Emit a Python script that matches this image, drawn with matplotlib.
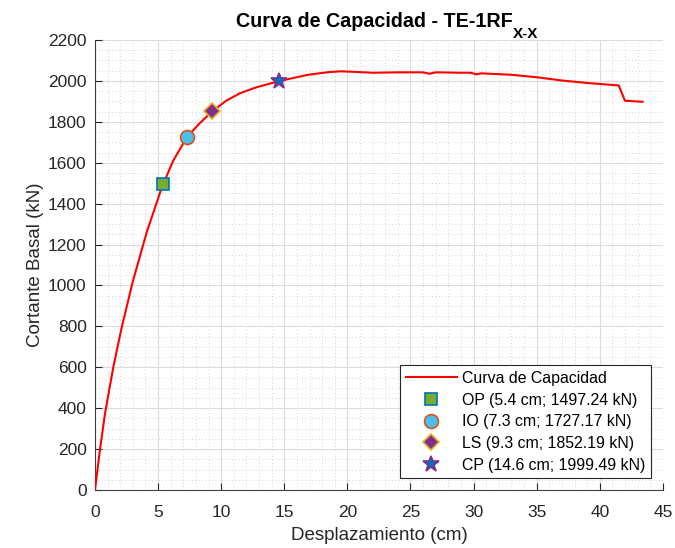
import matplotlib.pyplot as plt
from matplotlib.ticker import MultipleLocator

plt.rcParams['font.family'] = ['Liberation Sans', 'DejaVu Sans']

# Capacity curve (cm, kN)
desp = [0, 0.4, 0.8, 1.45, 2.1, 3.0, 4.1, 5.3, 6.2, 7.3, 8.3, 9.3, 10.4, 11.5, 12.8,
        14.6, 16.8, 18.5, 19.5, 21.0, 22.0, 24.0, 26.0, 26.5, 27.0, 29.0, 29.8, 30.2,
        30.6, 33.0, 35.0, 37.0, 39.0, 41.5, 42.0, 43.4]
cortante = [0, 200, 376, 600, 790, 1020, 1260, 1480, 1610, 1727, 1793, 1852, 1903, 1940,
            1969, 1999, 2029, 2043, 2047, 2043, 2040, 2042, 2042, 2035, 2042, 2040, 2040,
            2032, 2037, 2030, 2018, 2002, 1990, 1978, 1903, 1898]

# Performance points
nombres = ['OP', 'IO', 'LS', 'CP']
d_pts = [5.4, 7.3, 9.3, 14.6]
v_pts = [1497.24, 1727.17, 1852.19, 1999.49]
marcadores = ['s', 'o', 'D', '*']
caras = ['#77AC30', '#4DBEEE', '#7E2F8E', '#0072BD']
bordes = ['#0072BD', '#D95319', '#EDB120', '#7E2F8E']
tamanos = [9, 10, 8, 12]

fig = plt.figure(figsize=(6.75, 5.48), dpi=100)
ax = fig.add_axes([0.1407, 0.1058, 0.8413, 0.8212])

ax.plot(desp, cortante, color='red', lw=1.5, label='Curva de Capacidad', zorder=3)
for n, d, v, m, fc, ec, s in zip(nombres, d_pts, v_pts, marcadores, caras, bordes, tamanos):
    ax.plot(d, v, linestyle='none', marker=m, markersize=s, markerfacecolor=fc,
            markeredgecolor=ec, markeredgewidth=1.2, zorder=4,
            label=f'{n} ({d} cm; {v:.2f} kN)')

ax.set_xlim(0, 45)
ax.set_ylim(0, 2200)
ax.xaxis.set_major_locator(MultipleLocator(5))
ax.yaxis.set_major_locator(MultipleLocator(200))
ax.xaxis.set_minor_locator(MultipleLocator(1))
ax.yaxis.set_minor_locator(MultipleLocator(50))
ax.grid(True, which='major', color='#dcdcdc', lw=0.8)
ax.grid(True, which='minor', color='#c8c8c8', lw=0.6, linestyle=(0, (1, 3)))
ax.set_axisbelow(True)

for sp in ['top', 'right']:
    ax.spines[sp].set_visible(False)
for sp in ['left', 'bottom']:
    ax.spines[sp].set_color('#404040')
ax.tick_params(which='major', direction='in', length=5, labelsize=12.5, colors='#262626',
               pad=6)
ax.tick_params(axis='x', which='major', pad=11)
ax.tick_params(which='minor', length=0)

ax.set_xlabel('Desplazamiento (cm)', fontsize=13.5, color='#262626', labelpad=5)
ax.set_ylabel('Cortante Basal (kN)', fontsize=13.5, color='#262626', labelpad=3)

# Title with a large, low subscript (drawn as two texts)
t_main = fig.text(235.5 / 675, 0.9507, 'Curva de Capacidad - TE-1RF', fontsize=14.2,
                  fontweight='bold', ha='left', va='baseline')
t_sub = fig.text(0, 0.931, 'X-X', fontsize=11, fontweight='bold', ha='left',
                 va='baseline')
fig.canvas.draw()
r = fig.canvas.get_renderer()
bb = t_main.get_window_extent(r)
t_sub.set_x((bb.x1 + 1) / fig.bbox.width)

leg = ax.legend(loc='lower right', fontsize=11.4, frameon=True, fancybox=False,
                edgecolor='#262626', framealpha=1, borderaxespad=0.75, handlelength=3.2,
                handletextpad=0.35, labelspacing=0.42, borderpad=0.35)
leg.get_frame().set_linewidth(0.8)

fig.savefig('out.png', dpi=100)
